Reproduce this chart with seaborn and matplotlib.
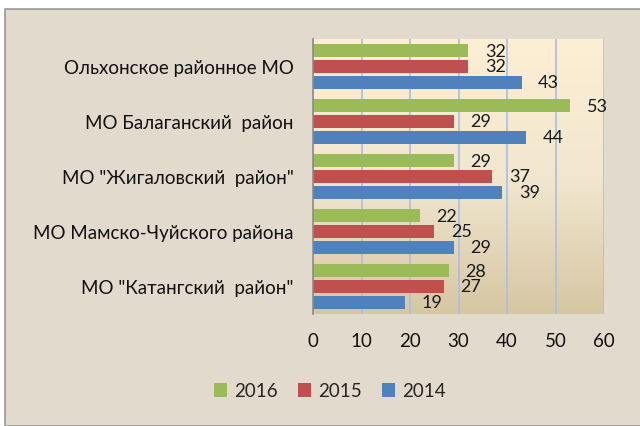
import numpy as np
import pandas as pd
import matplotlib
matplotlib.use("Agg")
import matplotlib.pyplot as plt
from matplotlib.patches import Rectangle, Patch
from matplotlib.colors import LinearSegmentedColormap
import seaborn as sns

categories = ['Ольхонское районное МО', 'МО Балаганский  район', 'МО "Жигаловский  район"',
              'МО Мамско-Чуйского района', 'МО "Катангский  район"']
series = ['2016', '2015', '2014']
v2016 = [32, 53, 29, 22, 28]
v2015 = [32, 29, 37, 25, 27]
v2014 = [43, 44, 39, 29, 19]
colors = ['#9bbb59', '#c0504d', '#4f81bd']
xticks = [0, 10, 20, 30, 40, 50, 60]

df = pd.DataFrame({
    'cat': categories * 3,
    'year': [s for s in series for _ in categories],
    'val': v2016 + v2015 + v2014,
})

sns.set_style('white')
plt.rcParams['font.family'] = ['Lato', 'DejaVu Sans']

fig = plt.figure(figsize=(6.4, 4.27), dpi=100)
fig.patch.set_facecolor('white')
fig.patches.append(Rectangle((5/640, 0), 1, 1 - 10/427, transform=fig.transFigure,
                             facecolor='#e2dacd', edgecolor='#9a9a9a', linewidth=1.2, zorder=-10))

ax = fig.add_axes([313/640, 1 - 315/427, (604 - 313)/640, (315 - 40)/427])
ax.set_facecolor('none')

grad = np.linspace(0, 1, 256).reshape(-1, 1)
cmap = LinearSegmentedColormap.from_list('g', ['#fdefd4', '#f1e6cf', '#d6c7a3'])
ax.imshow(grad, aspect='auto', cmap=cmap, extent=[0, 60, 4.5, -0.5], zorder=0)

sns.barplot(data=df, y='cat', x='val', hue='year', order=categories, hue_order=series,
            palette=colors, orient='h', width=0.87, gap=0.18, ax=ax, zorder=3,
            edgecolor='none', saturation=1)

for c in ax.containers:
    ax.bar_label(c, padding=12, fontsize=13, color='#1a1a1a')

ax.set_xlim(0, 60)
ax.set_ylim(4.5, -0.5)
ax.set_xticks(xticks)
ax.set_xticklabels([str(t) for t in xticks], fontsize=13.5, color='#111111')
ax.tick_params(axis='x', length=0, pad=13)
ax.tick_params(axis='y', length=0, pad=14, labelsize=13.5, labelcolor='#111111')
ax.xaxis.grid(True, color='#a8bfe4', linewidth=1.2, zorder=1)
ax.set_axisbelow(True)
ax.set_xlabel('')
ax.set_ylabel('')
for s in ['top', 'right', 'bottom']:
    ax.spines[s].set_visible(False)
ax.spines['left'].set_color('#8c8c8c')
ax.spines['left'].set_linewidth(1.2)
ax.spines['left'].set_zorder(5)

leg = ax.get_legend()
if leg is not None:
    leg.remove()
handles = [Patch(facecolor=c, edgecolor='none') for c in colors]
fig.legend(handles, series, loc='center', bbox_to_anchor=(330/640, 1 - 392/427), ncol=3,
           frameon=False, fontsize=13.5, handlelength=0.7, handleheight=0.7,
           handletextpad=0.35, columnspacing=1.1)

fig.savefig('out.png', dpi=100)
